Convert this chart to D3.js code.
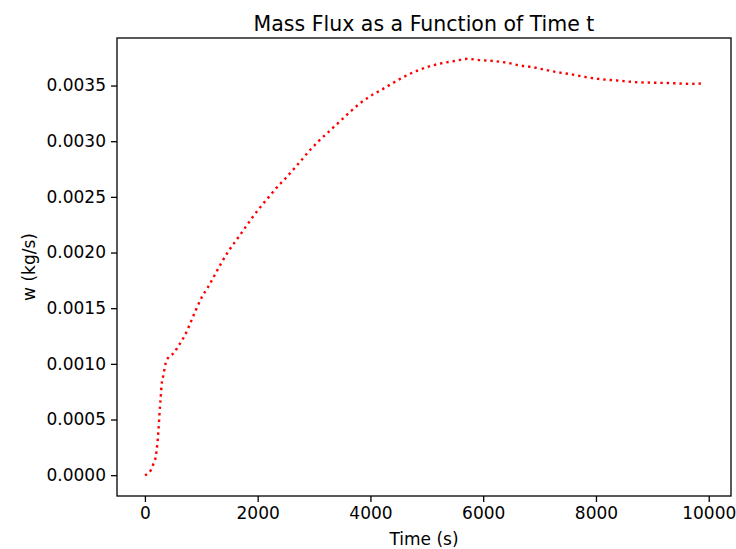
<!DOCTYPE html>
<html>
<head>
<meta charset="utf-8">
<script src="https://cdn.jsdelivr.net/npm/d3@7"></script>
<style>
  body { margin: 0; background: #fff; }
  text { font-family: "DejaVu Sans", sans-serif; fill: #000; }
</style>
</head>
<body>
<div id="chart"></div>
<script>
// data (time in s, mass flux in kg/s)
var times = [0, 100, 150, 190, 220, 240, 255, 280, 300, 325, 370, 420, 520, 580, 645, 750,
  800, 900, 1000, 1120, 1240, 1360, 1480, 1620, 1760, 1900, 2050, 2200, 2350, 2500,
  2640, 2760, 2910, 3080, 3250, 3440, 3610, 3790, 3980, 4190, 4390, 4600, 4810, 5030, 5260,
  5490, 5720, 5950, 6190, 6420, 6650, 6880, 7110, 7340, 7570, 7800, 8030, 8380,
  8720, 9070, 9420, 9660, 9900];
var flux = [0, 0.00004, 0.0001, 0.00016, 0.00028, 0.0004, 0.00052, 0.0007, 0.00083, 0.00089,
  0.00101, 0.00106, 0.00110, 0.00115, 0.00120, 0.00130,
  0.00136, 0.00148, 0.00159, 0.00169, 0.00180, 0.00191, 0.00201, 0.00211, 0.00221, 0.00231,
  0.00241, 0.00250, 0.00259, 0.00267,
  0.00275, 0.00282, 0.00291, 0.00300, 0.00308, 0.00317, 0.00325, 0.00333, 0.00340, 0.00346,
  0.00352, 0.00358, 0.00363, 0.00367, 0.00370, 0.00372, 0.00374, 0.003728, 0.00372, 0.003705,
  0.00368, 0.003665, 0.00364, 0.003618, 0.0036, 0.003578, 0.00356, 0.003545, 0.00353, 0.003525,
  0.00352, 0.003515, 0.00352];
var xTicks = [0, 2000, 4000, 6000, 8000, 10000];
var yTicks = [0, 0.0005, 0.0010, 0.0015, 0.0020, 0.0025, 0.0030, 0.0035];

var svgWidth = 736;
var svgHeight = 549;

var margin = { top: 38, right: 5, bottom: 53, left: 117 };

var chartWidth = svgWidth - margin.left - margin.right;
var chartHeight = svgHeight - margin.top - margin.bottom;

var svg = d3.select("#chart")
    .append("svg")
    .attr("width", svgWidth)
    .attr("height", svgHeight);

var chartGroup = svg.append("g")
    .attr("transform", `translate(${margin.left},${margin.top})`);

var data = times.map((t, i) => ({ t: t, w: flux[i] }));

// matplotlib-like 5% margins
var xExt = d3.extent(times);
var yExt = d3.extent(flux);
var xPad = (xExt[1] - xExt[0]) * 0.05;
var yPad = (yExt[1] - yExt[0]) * 0.05;

var xLinearScale = d3.scaleLinear()
    .domain([xExt[0] - xPad, xExt[1] + xPad])
    .range([0, chartWidth]);

var yLinearScale = d3.scaleLinear()
    .domain([yExt[0] - yPad, yExt[1] + yPad])
    .range([chartHeight, 0]);

var bottomAxis = d3.axisBottom(xLinearScale)
    .tickValues(xTicks)
    .tickFormat(d3.format("d"))
    .tickSizeInner(6)
    .tickSizeOuter(0)
    .tickPadding(5);

var leftAxis = d3.axisLeft(yLinearScale)
    .tickValues(yTicks)
    .tickFormat(d3.format(".4f"))
    .tickSizeInner(6)
    .tickSizeOuter(0)
    .tickPadding(5);

var xAxis = chartGroup.append("g")
    .attr("transform", `translate(0, ${chartHeight})`)
    .call(bottomAxis);

var yAxis = chartGroup.append("g")
    .call(leftAxis);

[xAxis, yAxis].forEach(function (ax) {
    ax.select(".domain").remove();
    ax.selectAll("line").attr("stroke", "#000").attr("stroke-width", 1.3);
    ax.selectAll("text")
        .attr("font-family", "DejaVu Sans, sans-serif")
        .attr("font-size", "17px")
        .attr("fill", "#000");
});

// the line, dotted red
var line = d3.line()
    .x(d => xLinearScale(d.t))
    .y(d => yLinearScale(d.w))
    .curve(d3.curveMonotoneX);

chartGroup.append("path")
    .datum(data)
    .attr("d", line)
    .attr("fill", "none")
    .attr("stroke", "#ff0000")
    .attr("stroke-width", 2.4)
    .attr("stroke-dasharray", "2.4 3.96")
    .attr("stroke-linecap", "butt");

// frame
chartGroup.append("rect")
    .attr("x", 0)
    .attr("y", 0)
    .attr("width", chartWidth)
    .attr("height", chartHeight)
    .attr("fill", "none")
    .attr("stroke", "#000")
    .attr("stroke-width", 1.3);

// title and axis labels
svg.append("text")
    .attr("x", margin.left + chartWidth / 2)
    .attr("y", 31)
    .attr("text-anchor", "middle")
    .attr("font-size", "20.5px")
    .text("Mass Flux as a Function of Time t");

svg.append("text")
    .attr("x", margin.left + chartWidth / 2)
    .attr("y", 545)
    .attr("text-anchor", "middle")
    .attr("font-size", "17px")
    .text("Time (s)");

svg.append("text")
    .attr("transform", "rotate(-90)")
    .attr("x", -(margin.top + chartHeight / 2))
    .attr("y", 35)
    .attr("text-anchor", "middle")
    .attr("font-size", "17px")
    .text("w (kg/s)");
</script>
</body>
</html>
